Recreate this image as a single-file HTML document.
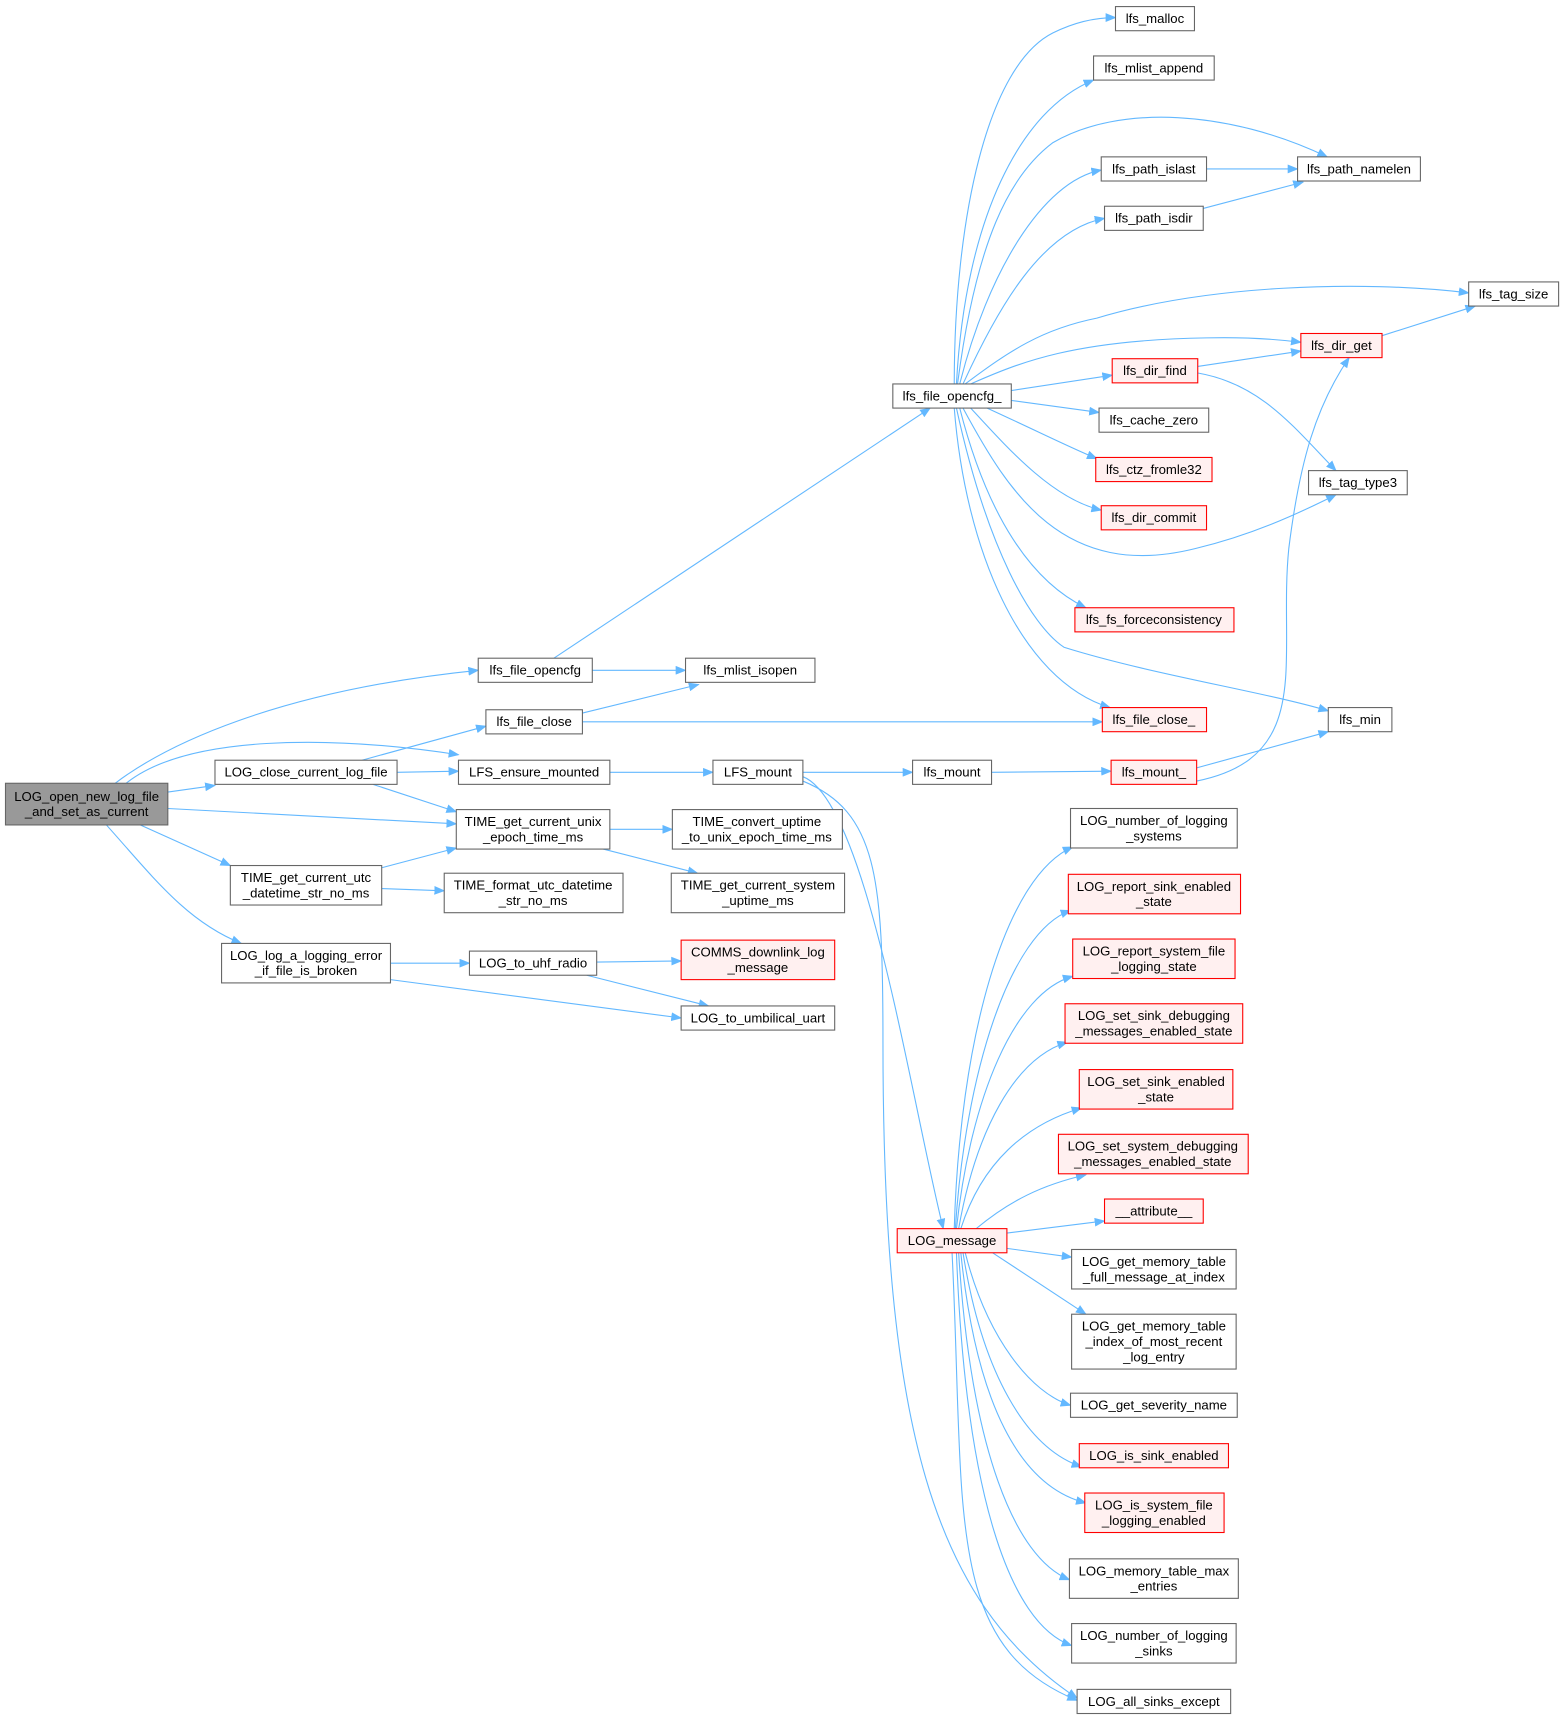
<!DOCTYPE html>
<html><head><meta charset="utf-8"><style>
html,body{margin:0;padding:0;background:#fff;}
svg{display:block;}
text{font-family:"Liberation Sans",Arial,sans-serif;font-size:12px;fill:#000;text-anchor:middle;}
.n{fill:#fff;stroke:#666;stroke-width:1;}
.r{fill:#fff0f0;stroke:#ff0000;stroke-width:1;}
.g{fill:#999;stroke:#666;stroke-width:1;}
.e{fill:none;stroke:#63b8ff;stroke-width:1;marker-end:url(#a);}
</style></head><body>
<svg width="1563" height="1719" viewBox="0 0 1425 1567" preserveAspectRatio="none" xmlns="http://www.w3.org/2000/svg">
<defs><marker id="a" markerWidth="10" markerHeight="8" refX="9" refY="4" orient="auto" markerUnits="userSpaceOnUse"><path d="M0,0 L10,4 L0,8 z" fill="#63b8ff"/></marker></defs>

<!-- edges -->
<path class="e" d="M105,714 C150,680 250,630 436,611"/>
<path class="e" d="M115,714 C170,670 300,670 418,688"/>
<path class="e" d="M153,722 L196,716"/>
<path class="e" d="M153,737 L416,751"/>
<path class="e" d="M128,752 L210,789"/>
<path class="e" d="M97,752 C140,800 170,840 220,860"/>
<path class="e" d="M330,693 L443,662"/>
<path class="e" d="M362,704 L418,703"/>
<path class="e" d="M340,715 L416,740"/>
<path class="e" d="M505,600 L848,372"/>
<path class="e" d="M540,611 L625,611"/>
<path class="e" d="M531,650 L637,624"/>
<path class="e" d="M531,658 L1005,658"/>
<path class="e" d="M556,704 L650,704"/>
<path class="e" d="M732,704 L832,704"/>
<path class="e" d="M904,704 L1013,703"/>
<path class="e" d="M1091,700 L1211,667"/>
<path class="e" d="M1091,712 C1200,690 1165,600 1175,500 C1185,420 1200,370 1230,326"/>
<path class="e" d="M732,708 C790,730 830,1000 860,1120"/>
<path class="e" d="M732,712 C800,740 805,800 805,950 C805,1300 850,1460 982,1548"/>
<path class="e" d="M556,756 L613,756"/>
<path class="e" d="M550,774 L636,796"/>
<path class="e" d="M348,791 L416,773"/>
<path class="e" d="M348,810 L405,812"/>
<path class="e" d="M356,878 L428,878"/>
<path class="e" d="M356,893 L621,928"/>
<path class="e" d="M544,877 L621,876"/>
<path class="e" d="M535,889 L646,917"/>

<path class="e" d="M870,350 C870,200 900,60 960,30 C980,20 1000,16 1017,16"/>
<path class="e" d="M872,350 C880,200 930,100 997,73"/>
<path class="e" d="M873,350 C890,220 920,160 960,130 C1020,95 1120,100 1210,143"/>
<path class="e" d="M875,350 C900,250 950,165 1004,155"/>
<path class="e" d="M878,350 C910,280 950,210 1007,199"/>
<path class="e" d="M880,350 C920,320 950,300 1000,290 C1100,260 1240,255 1339,267"/>
<path class="e" d="M885,350 C930,330 980,310 1100,308 C1140,307 1170,310 1186,312"/>
<path class="e" d="M922,356 L1014,342"/>
<path class="e" d="M922,365 L1002,376"/>
<path class="e" d="M900,372 C950,395 980,410 1000,418"/>
<path class="e" d="M885,372 C920,410 960,455 1004,465"/>
<path class="e" d="M878,372 C920,450 970,530 1090,500 C1140,488 1180,470 1218,451"/>
<path class="e" d="M875,372 C900,470 940,530 990,554"/>
<path class="e" d="M872,372 C900,500 940,570 970,590 C1050,615 1150,630 1211,648"/>
<path class="e" d="M870,372 C880,500 930,620 1012,645"/>
<path class="e" d="M1092,334 L1186,320"/>
<path class="e" d="M1092,340 C1150,350 1180,390 1218,429"/>
<path class="e" d="M1260,306 L1345,279"/>
<path class="e" d="M1100,154 L1183,154"/>
<path class="e" d="M1097,190 L1188,166"/>

<path class="e" d="M870,1120 C875,950 915,800 978,772"/>
<path class="e" d="M871,1120 C880,980 920,850 976,830"/>
<path class="e" d="M872,1120 C885,1000 925,905 978,890"/>
<path class="e" d="M874,1120 C890,1030 925,965 973,950"/>
<path class="e" d="M876,1120 C895,1060 935,1025 986,1010"/>
<path class="e" d="M890,1120 C920,1095 950,1080 990,1071"/>
<path class="e" d="M918,1124 L1007,1113"/>
<path class="e" d="M918,1138 L977,1146"/>
<path class="e" d="M905,1142 L990,1198"/>
<path class="e" d="M880,1142 C900,1220 940,1270 976,1281"/>
<path class="e" d="M878,1142 C895,1250 935,1320 986,1337"/>
<path class="e" d="M876,1142 C890,1280 930,1355 990,1370"/>
<path class="e" d="M874,1142 C885,1320 925,1420 975,1440"/>
<path class="e" d="M872,1142 C880,1360 920,1480 977,1500"/>
<path class="e" d="M868,1142 C880,1380 860,1500 982,1550"/>

<!-- nodes -->
<rect class="g" x="5" y="714" width="148" height="38"/><text x="79" y="730">LOG_open_new_log_file</text><text x="79" y="744">_and_set_as_current</text>
<rect class="n" x="436" y="600" width="104" height="22"/><text x="488" y="615">lfs_file_opencfg</text>
<rect class="n" x="625" y="600" width="118" height="22"/><text x="684" y="615">lfs_mlist_isopen</text>
<rect class="n" x="443" y="647" width="88" height="22"/><text x="487" y="662">lfs_file_close</text>
<rect class="n" x="196" y="693" width="166" height="22"/><text x="279" y="708">LOG_close_current_log_file</text>
<rect class="n" x="418" y="693" width="138" height="22"/><text x="487" y="708">LFS_ensure_mounted</text>
<rect class="n" x="650" y="693" width="82" height="22"/><text x="691" y="708">LFS_mount</text>
<rect class="n" x="832" y="693" width="72" height="22"/><text x="868" y="708">lfs_mount</text>
<rect class="r" x="1013" y="693" width="78" height="22"/><text x="1052" y="708">lfs_mount_</text>
<rect class="n" x="416" y="738" width="140" height="36"/><text x="486" y="753">TIME_get_current_unix</text><text x="486" y="767">_epoch_time_ms</text>
<rect class="n" x="613" y="738" width="155" height="36"/><text x="690" y="753">TIME_convert_uptime</text><text x="690" y="767">_to_unix_epoch_time_ms</text>
<rect class="n" x="210" y="789" width="138" height="36"/><text x="279" y="804">TIME_get_current_utc</text><text x="279" y="818">_datetime_str_no_ms</text>
<rect class="n" x="405" y="796" width="163" height="36"/><text x="486" y="811">TIME_format_utc_datetime</text><text x="486" y="825">_str_no_ms</text>
<rect class="n" x="612" y="796" width="158" height="36"/><text x="691" y="811">TIME_get_current_system</text><text x="691" y="825">_uptime_ms</text>
<rect class="n" x="202" y="860" width="154" height="36"/><text x="279" y="875">LOG_log_a_logging_error</text><text x="279" y="889">_if_file_is_broken</text>
<rect class="n" x="428" y="867" width="116" height="22"/><text x="486" y="882">LOG_to_uhf_radio</text>
<rect class="r" x="621" y="857" width="140" height="36"/><text x="691" y="872">COMMS_downlink_log</text><text x="691" y="886">_message</text>
<rect class="n" x="621" y="917" width="140" height="22"/><text x="691" y="932">LOG_to_umbilical_uart</text>

<rect class="n" x="814" y="350" width="108" height="22"/><text x="868" y="365">lfs_file_opencfg_</text>
<rect class="n" x="1017" y="6" width="72" height="22"/><text x="1053" y="21">lfs_malloc</text>
<rect class="n" x="997" y="51" width="110" height="22"/><text x="1052" y="66">lfs_mlist_append</text>
<rect class="n" x="1004" y="143" width="96" height="22"/><text x="1052" y="158">lfs_path_islast</text>
<rect class="n" x="1183" y="143" width="112" height="22"/><text x="1239" y="158">lfs_path_namelen</text>
<rect class="n" x="1007" y="188" width="90" height="22"/><text x="1052" y="203">lfs_path_isdir</text>
<rect class="n" x="1339" y="257" width="82" height="22"/><text x="1380" y="272">lfs_tag_size</text>
<rect class="r" x="1186" y="304" width="74" height="22"/><text x="1223" y="319">lfs_dir_get</text>
<rect class="r" x="1014" y="327" width="78" height="22"/><text x="1053" y="342">lfs_dir_find</text>
<rect class="n" x="1002" y="372" width="100" height="22"/><text x="1052" y="387">lfs_cache_zero</text>
<rect class="r" x="999" y="417" width="106" height="22"/><text x="1052" y="432">lfs_ctz_fromle32</text>
<rect class="n" x="1193" y="429" width="90" height="22"/><text x="1238" y="444">lfs_tag_type3</text>
<rect class="r" x="1004" y="461" width="96" height="22"/><text x="1052" y="476">lfs_dir_commit</text>
<rect class="r" x="980" y="554" width="145" height="22"/><text x="1052" y="569">lfs_fs_forceconsistency</text>
<rect class="r" x="1005" y="645" width="95" height="22"/><text x="1052" y="660">lfs_file_close_</text>
<rect class="n" x="1211" y="645" width="58" height="22"/><text x="1240" y="660">lfs_min</text>

<rect class="r" x="818" y="1120" width="100" height="22"/><text x="868" y="1135">LOG_message</text>
<rect class="n" x="976" y="737" width="152" height="36"/><text x="1052" y="752">LOG_number_of_logging</text><text x="1052" y="766">_systems</text>
<rect class="r" x="974" y="797" width="157" height="36"/><text x="1052" y="812">LOG_report_sink_enabled</text><text x="1052" y="826">_state</text>
<rect class="r" x="978" y="856" width="148" height="36"/><text x="1052" y="871">LOG_report_system_file</text><text x="1052" y="885">_logging_state</text>
<rect class="r" x="971" y="915" width="162" height="36"/><text x="1052" y="930">LOG_set_sink_debugging</text><text x="1052" y="944">_messages_enabled_state</text>
<rect class="r" x="984" y="975" width="140" height="36"/><text x="1054" y="990">LOG_set_sink_enabled</text><text x="1054" y="1004">_state</text>
<rect class="r" x="965" y="1034" width="173" height="36"/><text x="1051" y="1049">LOG_set_system_debugging</text><text x="1051" y="1063">_messages_enabled_state</text>
<rect class="r" x="1007" y="1093" width="90" height="22"/><text x="1052" y="1108">__attribute__</text>
<rect class="n" x="977" y="1139" width="150" height="36"/><text x="1052" y="1154">LOG_get_memory_table</text><text x="1052" y="1168">_full_message_at_index</text>
<rect class="n" x="977" y="1198" width="150" height="50"/><text x="1052" y="1213">LOG_get_memory_table</text><text x="1052" y="1227">_index_of_most_recent</text><text x="1052" y="1241">_log_entry</text>
<rect class="n" x="976" y="1270" width="152" height="22"/><text x="1052" y="1285">LOG_get_severity_name</text>
<rect class="r" x="984" y="1316" width="136" height="22"/><text x="1052" y="1331">LOG_is_sink_enabled</text>
<rect class="r" x="989" y="1361" width="127" height="36"/><text x="1052" y="1376">LOG_is_system_file</text><text x="1052" y="1390">_logging_enabled</text>
<rect class="n" x="975" y="1421" width="154" height="36"/><text x="1052" y="1436">LOG_memory_table_max</text><text x="1052" y="1450">_entries</text>
<rect class="n" x="977" y="1480" width="150" height="36"/><text x="1052" y="1495">LOG_number_of_logging</text><text x="1052" y="1509">_sinks</text>
<rect class="n" x="982" y="1540" width="140" height="22"/><text x="1052" y="1555">LOG_all_sinks_except</text>
</svg>
</body></html>
